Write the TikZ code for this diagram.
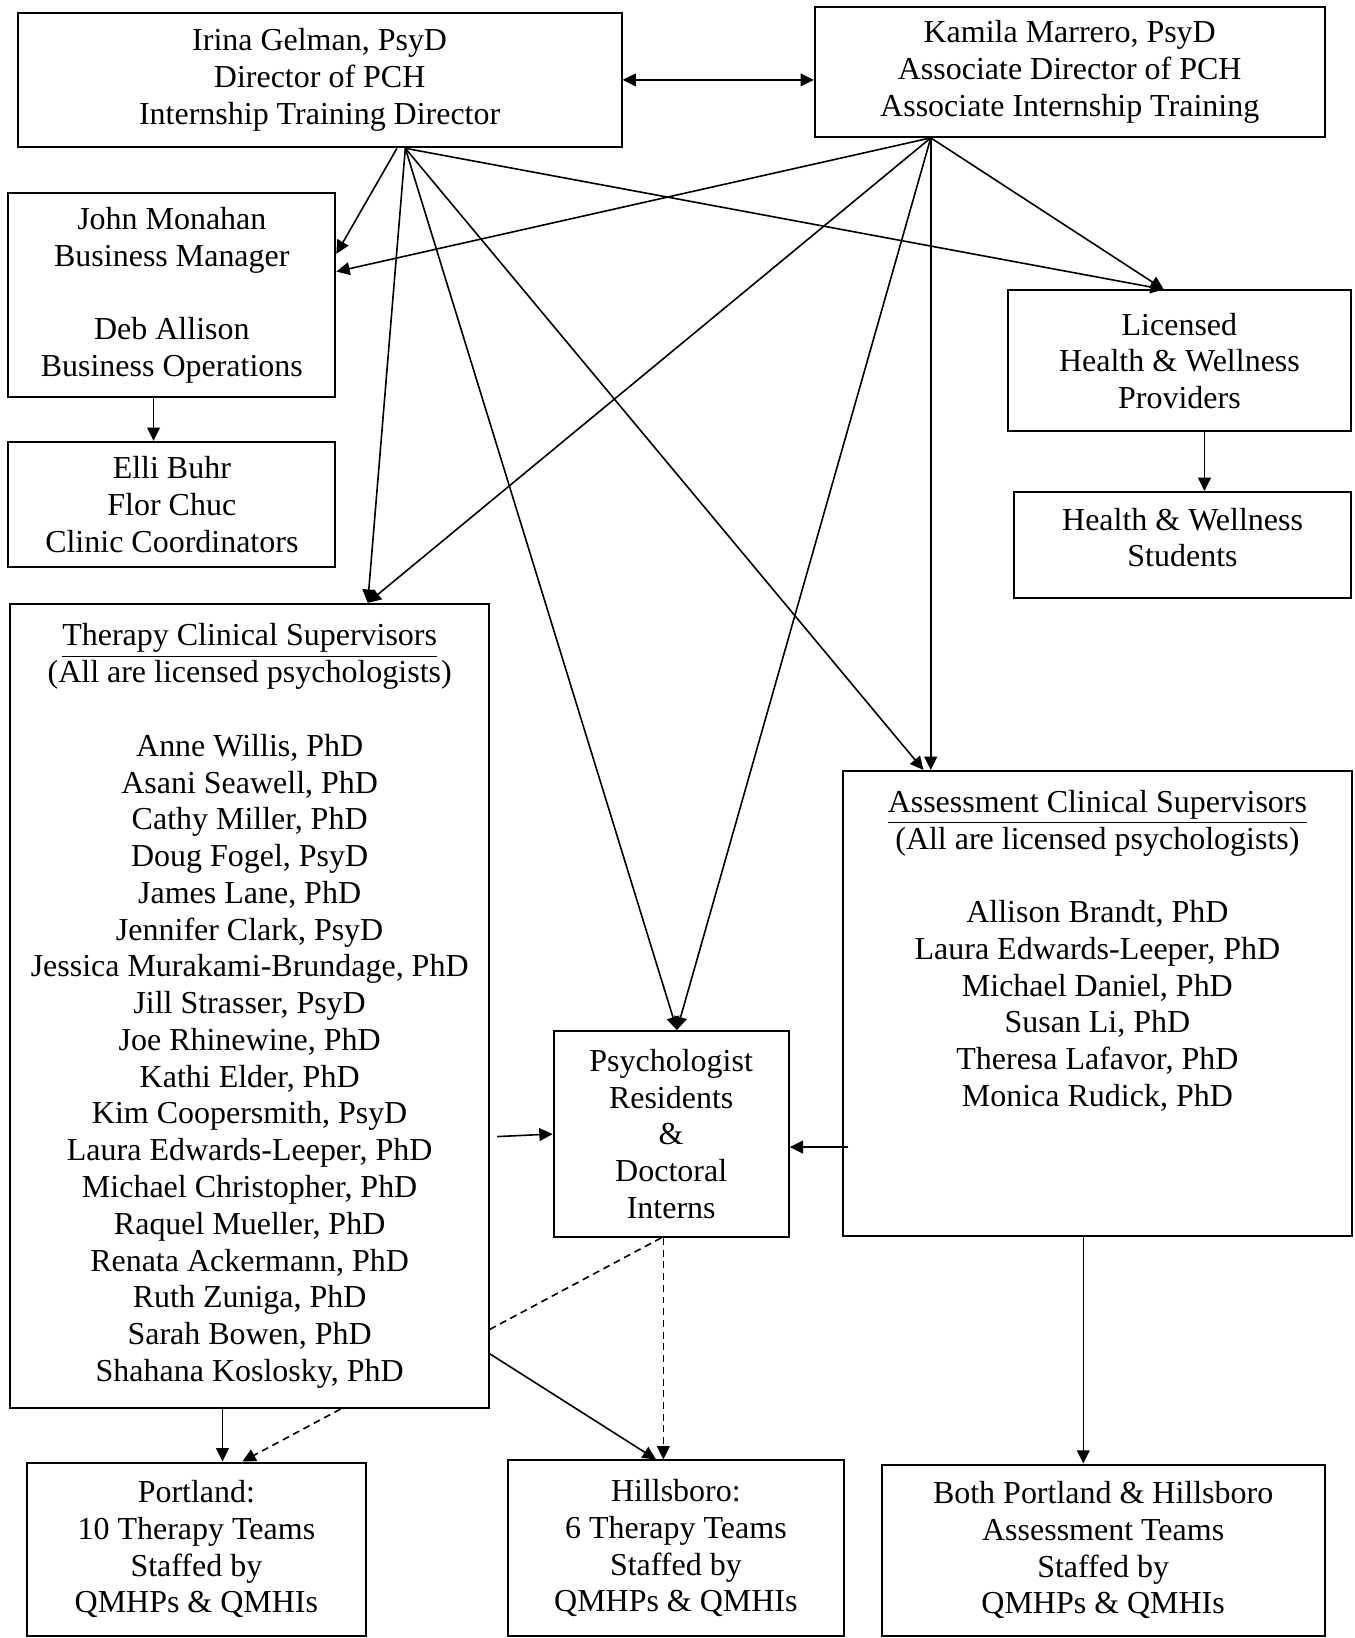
\documentclass[tikz,border=0pt]{standalone}
\usepackage{fontspec}
\setmainfont{Liberation Serif}
\usetikzlibrary{arrows.meta}
\usetikzlibrary{calc}
\usetikzlibrary{backgrounds}
\newcommand{\px}{0.392pt}
\tikzset{
  box/.style={draw, line width=0.75pt, fill=white, align=center, inner sep=0pt,
    font=\fontsize{12}{13.8}\selectfont},
  boxdim/.style 2 args={minimum width=#1*\px, minimum height=#2*\px},
  link/.style={->, line width=0.6pt},
  dashlink/.style={link, dash pattern=on 2.6pt off 1.8pt},
}

\begin{document}
\begin{tikzpicture}[x=\px, y=-\px, >={Triangle[length=5pt,width=4.8pt]}]
  \useasboundingbox (0,0) rectangle (1297,1568);

  \node[box,boxdim={578}{129}] (irina) at (306,76.5)
    {Irina Gelman, PsyD\\Director of PCH\\Internship Training Director};
  \node[box,boxdim={488}{124}] (kamila) at (1024,69)
    {Kamila Marrero, PsyD\\Associate Director of PCH\\Associate Internship Training};
  \node[box,boxdim={313}{195}] (john) at (164.5,282.5)
    {John Monahan\\Business Manager\\[13.8pt]Deb Allison\\Business Operations};
  \node[box,boxdim={313}{120}] (elli) at (164.5,483)
    {Elli Buhr\\Flor Chuc\\Clinic Coordinators};
  \node[box,boxdim={328}{135}] (licensed) at (1129,345.5)
    {Licensed\\Health \& Wellness\\Providers};
  \node[box,boxdim={322}{101},text depth=5.5pt] (hwstud) at (1132,521.5)
    {Health \& Wellness\\Students};
  \node[box,boxdim={458}{770}] (therapy) at (239,963)
    {\underline{Therapy Clinical Supervisors}\\(All are licensed psychologists)\\[13.8pt]
     Anne Willis, PhD\\Asani Seawell, PhD\\Cathy Miller, PhD\\Doug Fogel, PsyD\\
     James Lane, PhD\\Jennifer Clark, PsyD\\Jessica Murakami-Brundage, PhD\\
     Jill Strasser, PsyD\\Joe Rhinewine, PhD\\Kathi Elder, PhD\\Kim Coopersmith, PsyD\\
     Laura Edwards-Leeper, PhD\\Michael Christopher, PhD\\Raquel Mueller, PhD\\
     Renata Ackermann, PhD\\Ruth Zuniga, PhD\\Sarah Bowen, PhD\\Shahana Koslosky, PhD};
  \node[box,boxdim={487}{445}] (assess) at (1050.5,960.5)
    {\underline{Assessment Clinical Supervisors}\\(All are licensed psychologists)\\[13.8pt]
     Allison Brandt, PhD\\Laura Edwards-Leeper, PhD\\Michael Daniel, PhD\\
     Susan Li, PhD\\Theresa Lafavor, PhD\\Monica Rudick, PhD\\[27.6pt]~};
  \node[box,boxdim={225}{197}] (resid) at (642.5,1085.5)
    {Psychologist\\Residents\\\&\\Doctoral\\Interns};
  \node[box,boxdim={324}{166}] (portland) at (188,1483)
    {Portland:\\10 Therapy Teams\\Staffed by\\QMHPs \& QMHIs};
  \node[box,boxdim={322}{168}] (hillsboro) at (647,1482)
    {Hillsboro:\\6 Therapy Teams\\Staffed by\\QMHPs \& QMHIs};
  \node[box,boxdim={424}{164}] (both) at (1056,1484)
    {Both Portland \& Hillsboro\\Assessment Teams\\Staffed by\\QMHPs \& QMHIs};

  \coordinate (ifan) at ($(irina.south)+(82,0)$);
  \coordinate (ifanb) at ($(irina.south)+(74,0)$);
  \coordinate (kfan) at ($(kamila.south)+(-133,0)$);

  \draw[link,<->] (irina.east) -- (irina.east -| kamila.west);

  \draw[link] (ifanb) -- ($(john.east)+(0,-39.5)$);
  \draw[link] (ifan) -- ($(therapy.north)+(113,0)$);
  \draw[link] (ifan) -- ($(resid.north)+(5.5,0)$);
  \draw[link] (ifan) -- ($(assess.north)+(-166.5,0)$);
  \draw[link] (ifan) -- ($(licensed.north)+(-15,0)$);

  \draw[link] (kfan) -- ($(john.east)+(0,-22.5)$);
  \draw[link] (kfan) -- ($(therapy.north)+(113,0)$);
  \draw[link] (kfan) -- ($(resid.north)+(5.5,0)$);
  \draw[link] (kfan) -- (kfan |- assess.north);
  \draw[link] (kfan) -- ($(licensed.north)+(-15,0)$);

  \draw[link] ($(john.south)+(-17.5,0)$) coordinate (jm) -- (jm |- elli.north);
  \draw[link] ($(licensed.south)+(24,0)$) coordinate (lh) -- (lh |- hwstud.north);

  \draw[link] ($(therapy.east)+(7,125)$) -- (resid.west);
  \draw[link] ($(assess.west)+(6,137.5)$) coordinate (ar) -- (ar -| resid.east);
  \draw[link] ($(assess.south)+(-13.5,0)$) coordinate (ab) -- (ab |- both.north);
  \draw[link] ($(therapy.south)+(-26,0)$) coordinate (tp) -- (tp |- portland.north);
  \draw[link] ($(therapy.east)+(0,333)$) -- ($(hillsboro.north)+(-19,0)$);
  \draw[dashlink] ($(resid.south)+(-7.5,0)$) coordinate (rh) -- (rh |- hillsboro.north);
  \begin{pgfonlayer}{background}
    \draw[dashlink] ($(resid.south)+(-9.5,0)$) -- ($(portland.north)+(44,0)$);
  \end{pgfonlayer}
\end{tikzpicture}
\end{document}
